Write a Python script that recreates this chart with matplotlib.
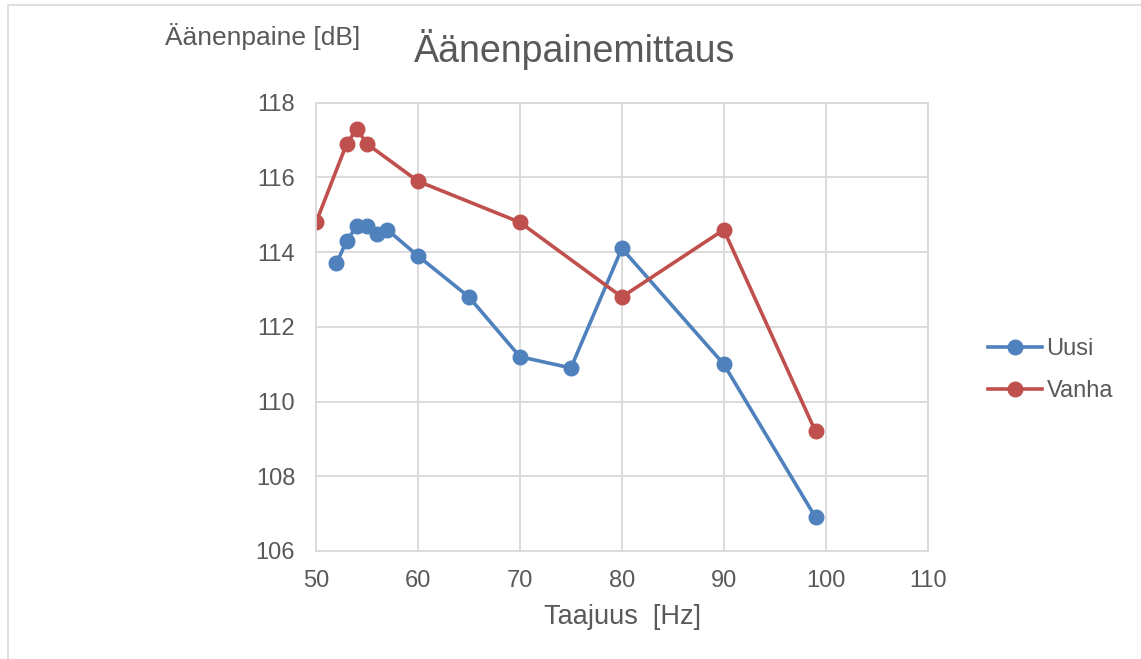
import matplotlib
matplotlib.use("Agg")
import matplotlib.pyplot as plt
from matplotlib.patches import Rectangle

plt.rcParams['font.family'] = ['Liberation Sans', 'DejaVu Sans']

# data
uusi_hz = [52, 53, 54, 55, 56, 57, 60, 65, 70, 75, 80, 90, 99]
uusi_db = [113.7, 114.3, 114.7, 114.7, 114.5, 114.6, 113.9, 112.8, 111.2, 110.9, 114.1, 111.0, 106.9]
vanha_hz = [50, 53, 54, 55, 60, 70, 80, 90, 99]
vanha_db = [114.8, 116.9, 117.3, 116.9, 115.9, 114.8, 112.8, 114.6, 109.2]

x_ticks = [50, 60, 70, 80, 90, 100, 110]
y_ticks = [106, 108, 110, 112, 114, 116, 118]

txt = '#595959'
grid = '#D9D9D9'

fig = plt.figure(figsize=(11.41, 6.59), dpi=100)
# outer chart frame
fig.patches.append(Rectangle((8 / 1141, -0.1), 1.2, 1.1 - 5 / 659, transform=fig.transFigure,
                             fill=False, edgecolor=grid, lw=1.2))
ax = fig.add_axes([0.277, 0.164, 0.536, 0.68])

ax.plot(uusi_hz, uusi_db, color='#4F81BD', lw=2.6, marker='o', ms=10.5, label='Uusi')
ax.plot(vanha_hz, vanha_db, color='#C0504D', lw=2.6, marker='o', ms=10.5, label='Vanha')

ax.set_xlim(50, 110)
ax.set_ylim(106, 118)
ax.set_xticks(x_ticks)
ax.set_yticks(y_ticks)
ax.grid(True, color=grid, lw=1.3)
ax.set_axisbelow(True)
for s in ax.spines.values():
    s.set_color(grid)
    s.set_linewidth(1.3)
ax.tick_params(length=0, labelsize=17, colors=txt)
ax.tick_params(axis='y', pad=15)
ax.tick_params(axis='x', pad=14)

fig.text(622 / 1141, 1 - 617 / 659, 'Taajuus  [Hz]', fontsize=19.5, color=txt, va='center', ha='center')
fig.text(165 / 1141, 1 - 37 / 659, 'Äänenpaine [dB]', fontsize=19, color=txt, va='center', ha='left')
fig.text(575 / 1141, 1 - 50 / 659, 'Äänenpainemittaus', fontsize=27, color=txt, va='center', ha='center')

ax.legend(loc='center left', bbox_to_anchor=(971 / 1141, 1 - 370 / 659), bbox_transform=fig.transFigure,
          frameon=False, fontsize=17, labelcolor=txt, handlelength=2.3, handletextpad=0.2,
          labelspacing=0.85, borderpad=0.2)

fig.savefig('out.png', dpi=100)
